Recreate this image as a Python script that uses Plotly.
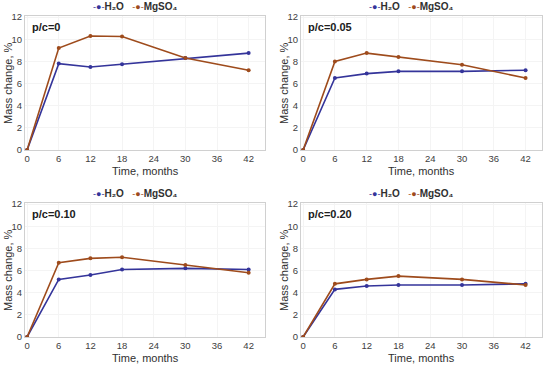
import plotly.graph_objects as go

months = [0, 6, 12, 18, 30, 42]
panel_labels = ["p/c=0", "p/c=0.05", "p/c=0.10", "p/c=0.20"]
h2o_0 = [0, 7.8, 7.5, 7.75, 8.3, 8.75]
mgso4_0 = [0, 9.2, 10.3, 10.25, 8.3, 7.2]
h2o_005 = [0, 6.5, 6.9, 7.1, 7.1, 7.2]
mgso4_005 = [0, 8.0, 8.75, 8.4, 7.7, 6.5]
h2o_010 = [0, 5.2, 5.6, 6.1, 6.2, 6.1]
mgso4_010 = [0, 6.7, 7.1, 7.2, 6.5, 5.8]
h2o_020 = [0, 4.3, 4.6, 4.7, 4.7, 4.8]
mgso4_020 = [0, 4.8, 5.2, 5.5, 5.2, 4.7]
x_ticks = [0, 6, 12, 18, 24, 30, 36, 42]
y_ticks = [0, 2, 4, 6, 8, 10, 12]
series_names = ["H₂O", "MgSO₄"]
x_title = "Time, months"
y_title = "Mass change, %"

h2o_sets = [h2o_0, h2o_005, h2o_010, h2o_020]
mg_sets = [mgso4_0, mgso4_005, mgso4_010, mgso4_020]

BLUE = "#34349A"
BROWN = "#9E4B1C"
FONT = "Liberation Sans, Arial, sans-serif"

W, H = 550, 365
# plot frames in pixels: (left, right, top, bottom)
frames = [(25, 265, 16, 150), (301, 542, 16, 150),
          (25, 265, 203, 337), (301, 542, 203, 337)]

fig = go.Figure()
layout = dict(width=W, height=H, margin=dict(l=0, r=0, t=0, b=0, autoexpand=False),
              paper_bgcolor="white", plot_bgcolor="white", showlegend=False,
              font=dict(family=FONT, color="#404040"))
annotations = []
for i, (l, r, t, b) in enumerate(frames):
    n = "" if i == 0 else str(i + 1)
    xa, ya = "x" + n, "y" + n
    fig.add_trace(go.Scatter(x=months, y=h2o_sets[i], mode="lines+markers", name=series_names[0],
                             line=dict(color=BLUE, width=1.6), marker=dict(size=4, color=BLUE),
                             xaxis=xa, yaxis=ya))
    fig.add_trace(go.Scatter(x=months, y=mg_sets[i], mode="lines+markers", name=series_names[1],
                             line=dict(color=BROWN, width=1.6), marker=dict(size=4, color=BROWN),
                             xaxis=xa, yaxis=ya))
    dx = [l / W, r / W]
    dy = [1 - b / H, 1 - t / H]
    layout["xaxis" + n] = dict(domain=dx, range=[-0.4, 45.1], tickvals=x_ticks,
                               anchor=ya, showline=True, linecolor="#D0D0D0", mirror=True,
                               showgrid=True, gridcolor="#F4F4F4", zeroline=False,
                               ticks="", tickfont=dict(size=9.5, color="#404040"),
                               automargin=False)
    layout["yaxis" + n] = dict(domain=dy, range=[0, 12.1], tickvals=y_ticks,
                               anchor=xa, showline=True, linecolor="#D0D0D0", mirror=True,
                               showgrid=True, gridcolor="#F4F4F4", zeroline=False,
                               ticks="", tickfont=dict(size=9.5, color="#404040"),
                               automargin=False)
    annotations.append(dict(text=x_title, x=0.5, y=0, xref=xa + " domain", yref=ya + " domain",
                            xanchor="center", yanchor="middle", yshift=-21, showarrow=False,
                            font=dict(size=11, color="#303030", family=FONT)))
    annotations.append(dict(text=y_title, x=0, y=0.5, xref=xa + " domain", yref=ya + " domain",
                            xanchor="center", yanchor="middle", xshift=-17, textangle=-90,
                            showarrow=False, font=dict(size=11, color="#303030", family=FONT)))
    legend_text = ("<span style='color:%s;font-size:9px'>-●-</span><b>%s</b>   "
                   "<span style='color:%s;font-size:9px'>-●-</span><b>%s</b>") % (
        BLUE, series_names[0], BROWN, series_names[1])
    annotations.append(dict(text=legend_text, x=((l + r) / 2 - 10) / W, y=1 - (t - 10) / H,
                            xref="paper", yref="paper", xanchor="center", yanchor="middle",
                            showarrow=False, font=dict(size=10, color="#303030", family=FONT)))
    annotations.append(dict(text="<b>" + panel_labels[i] + "</b>", x=0.02, y=0.92,
                            xref=xa + " domain", yref=ya + " domain",
                            xanchor="left", yanchor="middle", showarrow=False,
                            font=dict(size=11, color="#202020", family=FONT)))
layout["annotations"] = annotations
fig.update_layout(**layout)
fig.write_html("out.html", post_script="document.body.style.margin='0px';",
               config={"displayModeBar": False})
